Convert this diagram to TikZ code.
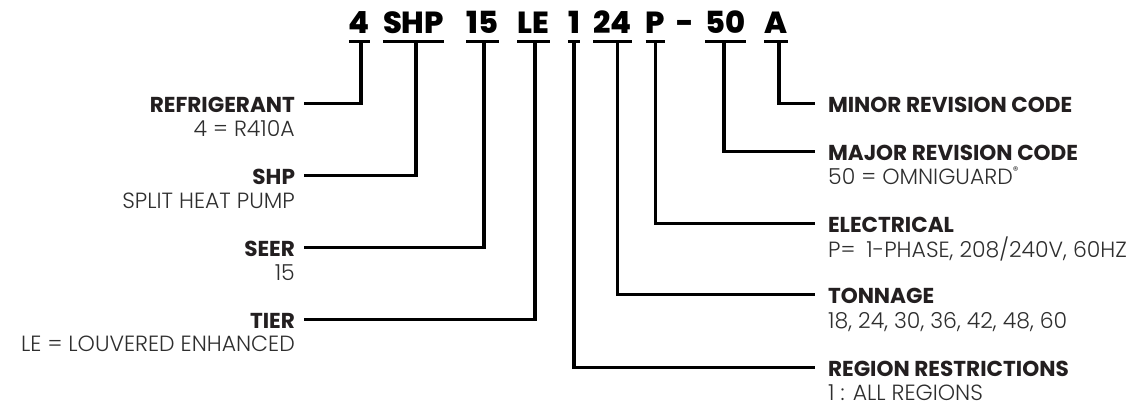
\documentclass[tikz,border=0pt]{standalone}
\usepackage{fontspec}
\setmainfont{Poppins}
\IfFontExistsTF{Poppins Light}{\newfontfamily\lightf{Poppins Light}}{\newfontfamily\lightf{Poppins}}
\IfFontExistsTF{Poppins ExtraBold}{\newfontfamily\heavyf{Poppins ExtraBold}}{\newcommand\heavyf{\bfseries}}
\definecolor{labc}{HTML}{231F20}
\definecolor{subc}{HTML}{2E2E2E}
\tikzset{
  ttl/.style={font=\heavyf\fontsize{30.5}{32}\selectfont, text=black, inner xsep=0pt, inner ysep=8pt, text depth=0pt, anchor=base},
  ul/.style={line width=3pt},
  conn/.style={line width=3.2pt, line join=miter},
  lab/.style={font=\bfseries\fontsize{21.6}{24}\selectfont, text=labc, inner sep=0pt, text height=17pt, text depth=0pt},
  labL/.style={lab, outer xsep=9pt, anchor=base east},
  labR/.style={lab, outer xsep=13pt, anchor=base west},
  sub/.style={font=\lightf\fontsize{22}{25}\selectfont, text=subc, inner sep=0pt},
  subL/.style={sub, anchor=base east},
  subR/.style={sub, anchor=base west}
}
\begin{document}
\begin{tikzpicture}[x=1pt,y=-1pt]
\fill[white] (0,0) rectangle (1126,407);
\useasboundingbox (0,0) rectangle (1126,407);
% title segments
\node[ttl] (t4)   at (359.5,33) {4};
\node[ttl] (tSHP) at (413.5,33) {SHP};
\node[ttl] (t15)  at (482.5,33) {15};
\node[ttl] (tLE)  at (533.5,33) {LE};
\node[ttl] (t1)   at (574,33) {1};
\node[ttl] (t24)  at (612.5,33) {24};
\node[ttl] (tP)   at (655.5,33) {P};
\node[ttl] (tdash) at (685,33) {-};
\node[ttl] (t50)  at (725.5,33) {50};
\node[ttl] (tA)   at (776,33) {A};
\foreach \n in {t4,tSHP,t15,tLE,t1,t24,tP,t50,tA}
  \draw[ul] (\n.south west) -- (\n.south east);
% left labels
\node[labL] (lref)  at (304,112) {REFRIGERANT};
\node[subL] (sref)  at (295,136) {4 = R410A};
\node[labL] (lshp)  at (304,184) {SHP};
\node[subL] (sshp)  at (295,208) {SPLIT HEAT PUMP};
\node[labL] (lseer) at (304,256) {SEER};
\node[subL] (sseer) at (295,280) {15};
\node[labL] (ltier) at (304,328) {TIER};
\node[subL] (stier) at (295,351) {LE = LOUVERED ENHANCED};
% right labels
\node[labR] (lminor) at (815,112) {MINOR REVISION CODE};
\node[labR] (lmajor) at (815,160) {MAJOR REVISION CODE};
\node[subR] (smajor) at (828,184) {50 = OMNIGUARD\raisebox{0.45em}{\normalfont\fontsize{11}{11}\selectfont ®}};
\node[labR] (lelec)  at (815,232) {ELECTRICAL};
\node[subR] (selec)  at (828,257) {P=\enspace1-PHASE, 208/240V, 60HZ};
\node[labR] (lton)   at (815,303) {TONNAGE};
\node[subR] (ston)   at (828,328) {18, 24, 30, 36, 42, 48, 60};
\node[labR] (lreg)   at (815,376) {REGION RESTRICTIONS};
\node[subR] (sreg)   at (828,400) {1 : ALL REGIONS};
% connectors
\draw[conn] ([xshift=1.5pt]t4.south) |- (lref.east);
\draw[conn] ([xshift=2.5pt]tSHP.south) |- (lshp.east);
\draw[conn] ([xshift=1.5pt]t15.south) |- (lseer.east);
\draw[conn] ([xshift=1.5pt]tLE.south) |- (ltier.east);
\draw[conn] (t1.south) |- (lreg.west);
\draw[conn] ([xshift=5pt]t24.south) |- (lton.west);
\draw[conn] (tP.south) |- (lelec.west);
\draw[conn] ([xshift=-1.5pt]t50.south) |- (lmajor.west);
\draw[conn] ([xshift=3pt]tA.south) |- (lminor.west);
\end{tikzpicture}
\end{document}
